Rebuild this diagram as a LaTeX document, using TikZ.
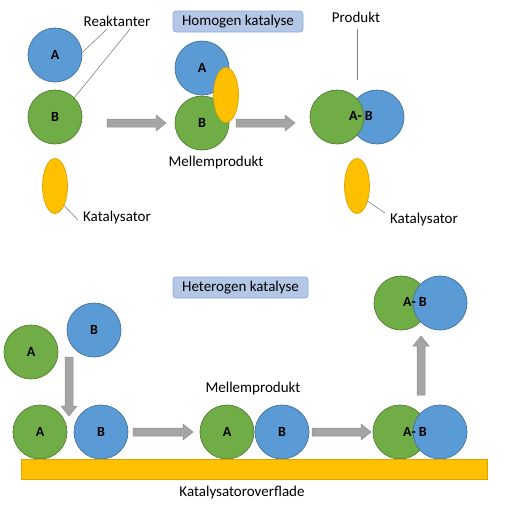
\documentclass[tikz,border=0pt]{standalone}
\usepackage{fontspec}
\setmainfont{Carlito}
\usetikzlibrary{shapes.geometric}
\definecolor{cblue}{HTML}{5B9BD5}
\definecolor{cblueD}{HTML}{41719C}
\definecolor{cgreen}{HTML}{70AD47}
\definecolor{cgreenD}{HTML}{507E32}
\definecolor{cyel}{HTML}{FFC000}
\definecolor{cyelD}{HTML}{D9A300}
\definecolor{cgrey}{HTML}{A5A5A5}
\definecolor{cgreyD}{HTML}{8C8C8C}
\definecolor{tfill}{HTML}{B4C7E7}
\definecolor{tdraw}{HTML}{8FAADC}
\tikzset{
  mol/.style={circle, minimum size=54pt, inner sep=0pt, line width=0.7pt, font=\bfseries\fontsize{14}{16}\selectfont},
  molb/.style={mol, fill=cblue, draw=cblueD},
  molg/.style={mol, fill=cgreen, draw=cgreenD},
  catal/.style={ellipse, minimum width=25pt, minimum height=55pt, inner sep=0pt, fill=cyel, draw=cyelD, line width=0.7pt},
  lbl/.style={font=\fontsize{15}{17}\selectfont, inner sep=0pt},
  boldlbl/.style={font=\bfseries\fontsize{14}{16}\selectfont, inner sep=0pt},
  titlebox/.style={draw=tdraw, fill=tfill, rounded corners=3pt, line width=0.7pt, font=\fontsize{15}{17}\selectfont, inner sep=0pt},
  lead/.style={draw=gray, line width=0.6pt},
  blockarrow/.style={fill=cgrey, draw=cgreyD, line width=0.5pt}
}
\newcommand\hblock[3]{\filldraw[blockarrow] (#1,#2-4) -- (#3-10,#2-4) -- (#3-10,#2-8) -- (#3,#2) -- (#3-10,#2+8) -- (#3-10,#2+4) -- (#1,#2+4) -- cycle;}
% #4 = +1 for downward, -1 for upward
\newcommand\vblock[4]{\filldraw[blockarrow] ({#1-4},{#2}) -- ({#1-4},{#3-10*#4}) -- ({#1-8},{#3-10*#4}) -- ({#1},{#3}) -- ({#1+8},{#3-10*#4}) -- ({#1+4},{#3-10*#4}) -- ({#1+4},{#2}) -- cycle;}
\begin{document}
\begin{tikzpicture}[x=1pt,y=-1pt]
\useasboundingbox (0,0) rectangle (504,517);
% ---------- Homogen katalyse ----------
\node[titlebox, minimum width=130pt, minimum height=21pt] (homt) at (238,21.5) {Homogen katalyse};
% reactants
\node[molb] (a1) at (55,55) {A};
\node[molg] (b1) at (55,117) {B};
\node[catal] (k1) at (55,186) {};
\node[lbl] (reak) at (117,21) {Reaktanter};
\coordinate (r1) at (107,29);
\coordinate (r2) at (130,29);
\draw[lead] (r1) -- (a1.5);
\draw[lead] (r2) -- (b1.45);
\node[lbl] (kat1) at (117,217) {Katalysator};
\coordinate (k1e) at (78,220);
\draw[lead] (k1.-65) -- (k1e);
% arrow 1
\hblock{107}{123}{166}
% intermediate
\node[molb] (a2) at (202,68) {A};
\node[molg] (b2) at (202,123) {B};
\node[catal] (k2) at (226,95) {};
\node[lbl] (mel1) at (216,162) {Mellemprodukt};
% arrow 2
\hblock{236}{123}{295}
% product
\node[molb] (pb) at (377,117) {};
\node[molg] (pa) at (337,117) {};
\node[boldlbl] (pab) at (361,116) {A- B};
\node[lbl] (prod) at (356,17) {Produkt};
\coordinate (p1) at (357,29);
\coordinate (p2) at (357,80);
\draw[lead] (p1) -- (p2);
\node[catal] (k3) at (357,186) {};
\node[lbl] (kat2) at (424,219) {Katalysator};
\coordinate (k3e) at (385,213);
\draw[lead] (k3.-55) -- (k3e);
% ---------- Heterogen katalyse ----------
\node[titlebox, minimum width=135pt, minimum height=21pt] (hett) at (240.5,287.5) {Heterogen katalyse};
\node[molg] (a3) at (31,352) {A};
\node[molb] (b3) at (94,330) {B};
\vblock{69}{357}{416}{1}
\node[molg] (a4) at (40,432) {A};
\node[molb] (b4) at (101,432) {B};
\hblock{133}{432}{193}
\node[molg] (a5) at (227,432) {A};
\node[molb] (b5) at (282,432) {B};
\node[lbl] (mel2) at (253,388) {Mellemprodukt};
\hblock{312}{432}{371}
\node[molg] (a6) at (400,432) {};
\node[molb] (b6) at (440,432) {};
\node[boldlbl] (ab6) at (415,432) {A- B};
\vblock{421}{395}{336}{-1}
\node[molg] (a7) at (401,303) {};
\node[molb] (b7) at (440,303) {};
\node[boldlbl] (ab7) at (415,302) {A- B};
% surface
\node[fill=cyel, draw=cyelD, line width=0.7pt, minimum width=466pt, minimum height=20pt, inner sep=0pt] (surf) at (254,469) {};
\node[lbl] (surfl) at (242,492) {Katalysatoroverflade};
\end{tikzpicture}
\end{document}
